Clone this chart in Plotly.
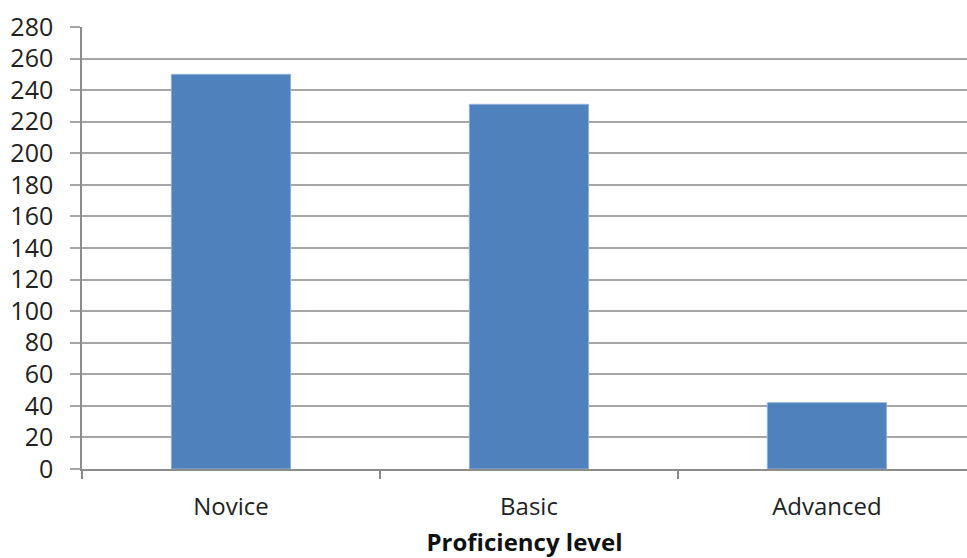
import plotly.graph_objects as go

# Learners per proficiency level
levels = ["Novice", "Basic", "Advanced"]
counts = [250, 231, 42]
y_ticks = list(range(0, 281, 20))

fig = go.Figure(
    go.Bar(
        x=levels,
        y=counts,
        width=0.4,
        marker=dict(color="#4F81BD", line=dict(color="#8FB0DA", width=1)),
    )
)

font_family = "Open Sans, Lato, DejaVu Sans, sans-serif"

fig.update_layout(
    width=967,
    height=558,
    margin=dict(l=82, r=0, t=27, b=89),
    paper_bgcolor="white",
    plot_bgcolor="white",
    showlegend=False,
    font=dict(family=font_family, color="#222222", size=20),
    bargap=0.6,
)

fig.update_xaxes(
    type="category",
    range=[-0.5, 2.47],
    automargin=False,
    tickson="boundaries",
    ticks="outside",
    ticklen=8,
    tickcolor="#8c8c8c",
    tickwidth=1.5,
    showline=True,
    linecolor="#8c8c8c",
    linewidth=1.5,
    showgrid=False,
    tickfont=dict(size=24, family=font_family),
    ticklabelstandoff=15,
    title=dict(
        text="<b>Proficiency level</b>",
        font=dict(size=24, family=font_family, color="#111111"),
        standoff=28,
    ),
)

fig.update_yaxes(
    range=[0, 280],
    automargin=False,
    tickvals=y_ticks,
    ticks="outside",
    ticklen=10,
    tickcolor="#a6a6a6",
    tickwidth=1.5,
    showline=True,
    linecolor="#8c8c8c",
    linewidth=1.5,
    showgrid=True,
    gridcolor="#a6a6a6",
    gridwidth=1.5,
    zeroline=False,
    tickfont=dict(size=25, family=font_family),
    ticklabelstandoff=12,
)

fig.write_html("out.html")
